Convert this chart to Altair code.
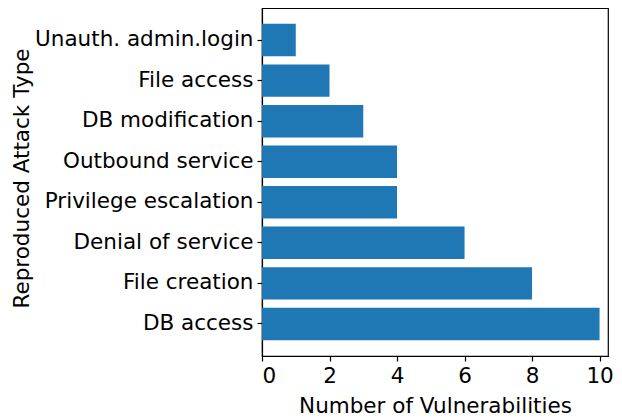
import altair as alt
import pandas as pd

attack_types = ['Unauth. admin.login', 'File access', 'DB modification', 'Outbound service',
                'Privilege escalation', 'Denial of service', 'File creation', 'DB access']
vuln_counts = [1, 2, 3, 4, 4, 6, 8, 10]

df = pd.DataFrame({'attack': attack_types, 'count': vuln_counts})

font = 'DejaVu Sans'

chart = alt.Chart(df).mark_bar(color='#1f77b4').encode(
    x=alt.X('count:Q', title='Number of Vulnerabilities',
            scale=alt.Scale(domain=[0, 10.25], nice=False, zero=True),
            axis=alt.Axis(values=[0, 2, 4, 6, 8, 10], grid=False, tickSize=5,
                          labelPadding=4, titlePadding=9)),
    y=alt.Y('attack:N', title='Reproduced Attack Type', sort=attack_types,
            scale=alt.Scale(paddingInner=0.2, paddingOuter=0.39),
            axis=alt.Axis(tickSize=5, labelPadding=4, labelLimit=0,
                          titleX=-240, titleY=170, titleBaseline='middle',
                          titleAlign='center', titleAngle=270))
).properties(
    width=346, height=348, autosize='none',
    padding={'left': 254, 'top': 0, 'right': 6, 'bottom': 62}
).configure_view(
    stroke='black', strokeWidth=1.2
).configure_axis(
    labelFont=font, titleFont=font, labelFontSize=21.5, titleFontSize=21.5,
    labelColor='black', titleColor='black', titleFontWeight='normal',
    domainColor='black', tickColor='black', domainWidth=1.2, tickWidth=1.2
)

chart.save('out.html', embed_options={'renderer': 'svg', 'actions': False})
